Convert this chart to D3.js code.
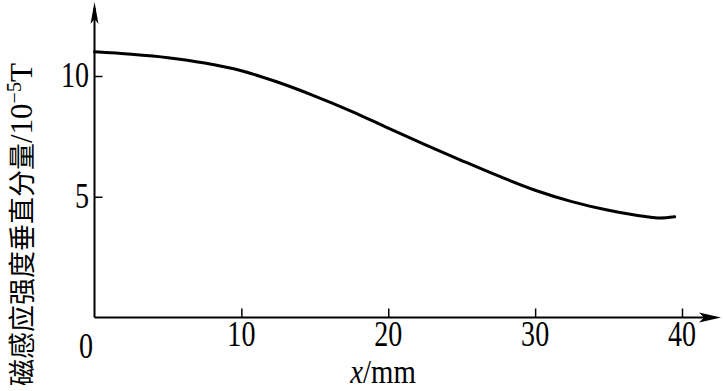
<!DOCTYPE html>
<html><head><meta charset="utf-8">
<script src="https://cdn.jsdelivr.net/npm/d3@7"></script>
<style>body{margin:0;background:#fff}</style>
</head><body>
<svg id="c" width="723" height="391"></svg>
<script>
const xValues = [0, 2.5, 5, 7.5, 10, 12.5, 15, 17.5, 20, 22.5, 25, 27.5, 30, 32.5, 35, 37.5, 38.5, 39.5];
const bValues = [11.0, 10.9, 10.76, 10.54, 10.22, 9.74, 9.17, 8.54, 7.84, 7.16, 6.5, 5.86, 5.27, 4.8, 4.44, 4.18, 4.12, 4.17];
const xTicks = [10, 20, 30, 40];
const yTicks = [5, 10];
const xTickLabels = ["10", "20", "30", "40"];
const yTickLabels = ["5", "10"];

const svg = d3.select("#c");
const x = d3.scaleLinear().domain([0, 40]).range([94.5, 682]);
const y = d3.scaleLinear().domain([0, 10]).range([317.5, 76]);
const serif = "'Liberation Serif','Times New Roman',serif";

// axes lines
svg.append("line").attr("x1", x(0)).attr("x2", 712).attr("y1", y(0)).attr("y2", y(0))
  .attr("stroke", "#000").attr("stroke-width", 2);
svg.append("line").attr("x1", x(0)).attr("x2", x(0)).attr("y1", y(0)).attr("y2", 8)
  .attr("stroke", "#000").attr("stroke-width", 2);
// arrows
svg.append("path").attr("d", `M721,${y(0)} L699,${y(0)-5} L704,${y(0)} L699,${y(0)+5} Z`).attr("fill", "#000");
svg.append("path").attr("d", `M${x(0)},2 L${x(0)-4},24 L${x(0)},19 L${x(0)+4},24 Z`).attr("fill", "#000");

// ticks via d3 axes
const xa = svg.append("g").attr("transform", `translate(0,${y(0)})`)
  .call(d3.axisBottom(x).tickValues(xTicks).tickSize(-9).tickFormat(""));
xa.select(".domain").remove();
xa.selectAll(".tick line").attr("stroke", "#000").attr("stroke-width", 1.5);
const ya = svg.append("g").attr("transform", `translate(${x(0)},0)`)
  .call(d3.axisLeft(y).tickValues(yTicks).tickSize(-8).tickFormat(""));
ya.select(".domain").remove();
ya.selectAll(".tick line").attr("stroke", "#000").attr("stroke-width", 1.5);

// tick labels
svg.selectAll(".xl").data(xTicks).enter().append("text")
  .attr("transform", (d) => `translate(${x(d)},346) scale(0.85,1.08)`)
  .attr("text-anchor", "middle").attr("font-family", serif).attr("font-size", 33)
  .text((d, i) => xTickLabels[i]);
svg.selectAll(".yl").data(yTicks).enter().append("text")
  .attr("transform", (d) => `translate(89,${y(d) + 11}) scale(0.85,1.08)`)
  .attr("text-anchor", "end").attr("font-family", serif).attr("font-size", 33)
  .text((d, i) => yTickLabels[i]);
svg.append("text").attr("transform", `translate(86,358) scale(0.85,1.08)`)
  .attr("text-anchor", "middle").attr("font-family", serif).attr("font-size", 33).text("0");

// x axis title
const xt = svg.append("text").attr("transform", "translate(383,383) scale(0.9,1.05)")
  .attr("text-anchor", "middle").attr("font-family", serif).attr("font-size", 32);
xt.append("tspan").attr("font-style", "italic").text("x");
xt.append("tspan").text("/mm");

// y axis title
const yt = svg.append("text").attr("transform", "translate(32,386) rotate(-90)")
  .attr("text-anchor", "start");
yt.append("tspan").attr("font-family", "'Noto Sans CJK SC',sans-serif").attr("font-size", 27).text("磁感应强度垂直分量");
yt.append("tspan").attr("font-family", serif).attr("font-size", 31).text("/10");
yt.append("tspan").attr("font-family", serif).attr("font-size", 20).attr("dy", -11).text("−5");
yt.append("tspan").attr("font-family", serif).attr("font-size", 31).attr("dy", 11).text("T");

// curve
const line = d3.line().x((d, i) => x(xValues[i])).y((d) => y(d)).curve(d3.curveMonotoneX);
svg.append("path").datum(bValues).attr("d", line).attr("fill", "none")
  .attr("stroke", "#000").attr("stroke-width", 3).attr("stroke-linecap", "round");
</script>
</body></html>
